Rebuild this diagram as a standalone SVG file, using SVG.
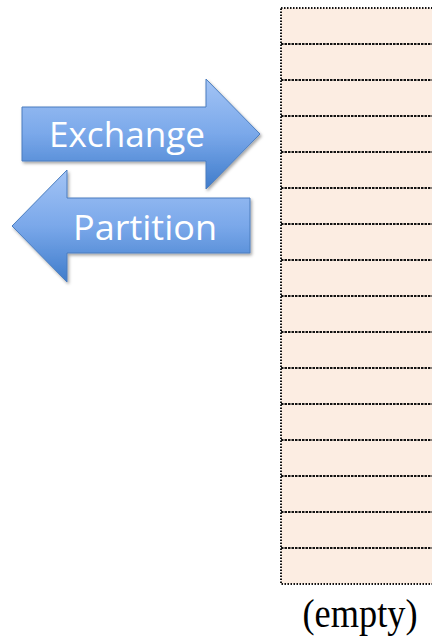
<svg xmlns="http://www.w3.org/2000/svg" width="432" height="640" viewBox="0 0 432 640">
<defs>
<linearGradient id="blue" x1="0" y1="0" x2="0" y2="1">
<stop offset="0" stop-color="#a3c4f5"/>
<stop offset="0.5" stop-color="#7aa8ea"/>
<stop offset="1" stop-color="#3f7ccb"/>
</linearGradient>
<filter id="sh" x="-10%" y="-10%" width="130%" height="130%">
<feDropShadow dx="1.5" dy="2" stdDeviation="1.5" flood-color="#000" flood-opacity="0.35"/>
</filter>
</defs>
<style>
.arrow{fill:url(#blue);stroke:#4a7dbf;stroke-width:1;filter:url(#sh)}
.lbl{font-family:"Open Sans","Liberation Sans",sans-serif;font-size:35px;fill:#fff;text-anchor:middle}
.col{fill:#fcede2;stroke:#111;stroke-width:2;stroke-dasharray:1.5 1.5}
.row{stroke:#111;stroke-width:2;stroke-dasharray:2.5 1}
</style>
<g id="column">
<rect class="col" x="281" y="8" width="160" height="576"/>
<g>
<line class="row" x1="281" y1="44" x2="432" y2="44"/>
<line class="row" x1="281" y1="80" x2="432" y2="80"/>
<line class="row" x1="281" y1="116" x2="432" y2="116"/>
<line class="row" x1="281" y1="152" x2="432" y2="152"/>
<line class="row" x1="281" y1="188" x2="432" y2="188"/>
<line class="row" x1="281" y1="224" x2="432" y2="224"/>
<line class="row" x1="281" y1="260" x2="432" y2="260"/>
<line class="row" x1="281" y1="296" x2="432" y2="296"/>
<line class="row" x1="281" y1="332" x2="432" y2="332"/>
<line class="row" x1="281" y1="368" x2="432" y2="368"/>
<line class="row" x1="281" y1="404" x2="432" y2="404"/>
<line class="row" x1="281" y1="440" x2="432" y2="440"/>
<line class="row" x1="281" y1="476" x2="432" y2="476"/>
<line class="row" x1="281" y1="512" x2="432" y2="512"/>
<line class="row" x1="281" y1="548" x2="432" y2="548"/>
</g>
</g>
<g id="exchange">
<path class="arrow" d="M22,107 H206 V79 L260,134 L206,189 V161 H22 Z"/>
<text class="lbl" x="127" y="147" textLength="156" lengthAdjust="spacingAndGlyphs">Exchange</text>
</g>
<g id="partition">
<path class="arrow" d="M250,198 H67 V170 L12,226 L67,282 V253 H250 Z"/>
<text class="lbl" x="145" y="240" textLength="144" lengthAdjust="spacingAndGlyphs">Partition</text>
</g>
<g id="empty">
<text x="360" y="627" font-family="'Liberation Serif',serif" font-size="40" fill="#000" text-anchor="middle" textLength="115" lengthAdjust="spacingAndGlyphs">(empty)</text>
</g>
</svg>
